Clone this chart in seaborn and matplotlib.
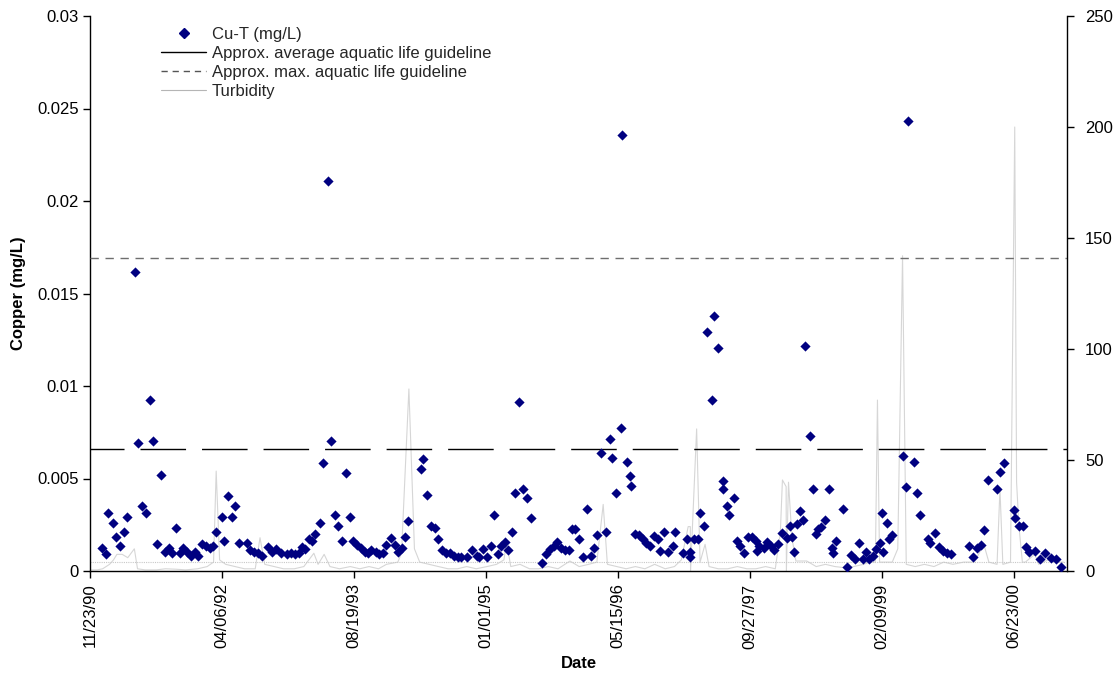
import matplotlib
matplotlib.use("Agg")
import matplotlib.pyplot as plt
import matplotlib.dates as mdates
from matplotlib.lines import Line2D
import pandas as pd
import seaborn as sns

# Total copper samples (mg/L)
copper_dates = [
    "1991-01-08", "1991-01-21", "1991-02-01", "1991-02-19", "1991-03-02", "1991-03-18",
    "1991-04-01", "1991-04-13", "1991-05-11", "1991-05-25", "1991-06-08", "1991-06-22",
    "1991-07-09", "1991-07-20", "1991-08-05", "1991-08-19", "1991-09-03", "1991-09-18",
    "1991-09-30", "1991-10-15", "1991-10-29", "1991-11-12", "1991-11-26", "1991-12-12",
    "1991-12-24", "1992-01-07", "1992-01-20", "1992-02-05", "1992-02-20", "1992-03-03",
    "1992-03-16", "1992-04-05", "1992-04-14", "1992-04-28", "1992-05-13", "1992-05-27",
    "1992-06-09", "1992-07-08", "1992-07-21", "1992-08-06", "1992-08-21", "1992-09-06",
    "1992-09-26", "1992-10-11", "1992-10-27", "1992-11-16", "1992-12-07", "1992-12-22",
    "1993-01-07", "1993-01-21", "1993-02-02", "1993-02-14", "1993-03-01", "1993-03-13",
    "1993-03-25", "1993-04-11", "1993-04-23", "1993-05-11", "1993-05-25", "1993-06-07",
    "1993-06-21", "1993-07-05", "1993-07-20", "1993-08-03", "1993-08-15", "1993-08-30",
    "1993-09-14", "1993-09-28", "1993-10-11", "1993-10-24", "1993-11-09", "1993-11-22",
    "1993-12-07", "1993-12-20", "1994-01-06", "1994-01-21", "1994-02-03", "1994-02-16",
    "1994-02-28", "1994-03-12", "1994-05-01", "1994-05-09", "1994-05-21", "1994-06-05",
    "1994-06-21", "1994-07-05", "1994-07-18", "1994-08-02", "1994-08-16", "1994-09-01",
    "1994-09-17", "1994-09-30", "1994-10-21", "1994-11-08", "1994-11-27", "1994-12-05",
    "1994-12-21", "1995-01-06", "1995-01-19", "1995-02-02", "1995-02-17", "1995-02-28",
    "1995-03-15", "1995-03-27", "1995-04-11", "1995-04-22", "1995-05-08", "1995-05-23",
    "1995-06-04", "1995-06-22", "1995-08-01", "1995-08-15", "1995-08-30", "1995-09-14",
    "1995-09-27", "1995-10-11", "1995-10-26", "1995-11-11", "1995-11-21", "1995-12-03",
    "1995-12-19", "1996-01-02", "1996-01-18", "1996-02-03", "1996-02-14", "1996-02-27",
    "1996-03-13", "1996-03-29", "1996-04-15", "1996-04-24", "1996-05-07", "1996-05-27",
    "1996-06-01", "1996-06-19", "1996-06-30", "1996-07-03", "1996-07-19", "1996-08-02",
    "1996-08-16", "1996-08-31", "1996-09-13", "1996-09-28", "1996-10-12", "1996-10-23",
    "1996-11-07", "1996-11-22", "1996-12-10", "1996-12-17", "1997-01-15", "1997-01-30",
    "1997-02-11", "1997-02-13", "1997-02-26", "1997-03-13", "1997-03-23", "1997-04-05",
    "1997-04-19", "1997-05-06", "1997-05-15", "1997-05-30", "1997-06-15", "1997-06-17",
    "1997-07-02", "1997-07-08", "1997-07-27", "1997-08-09", "1997-08-21", "1997-09-06",
    "1997-09-21", "1997-10-05", "1997-10-20", "1997-10-22", "1997-11-02", "1997-11-18",
    "1997-12-02", "1997-12-14", "1997-12-27", "1998-01-12", "1998-01-28", "1998-02-13",
    "1998-02-27", "1998-03-06", "1998-03-11", "1998-03-23", "1998-04-03", "1998-04-15",
    "1998-04-25", "1998-05-13", "1998-05-25", "1998-06-05", "1998-06-13", "1998-06-23",
    "1998-07-09", "1998-07-22", "1998-08-04", "1998-08-07", "1998-08-20", "1998-09-15",
    "1998-10-01", "1998-10-16", "1998-10-29", "1998-11-13", "1998-11-29", "1998-12-12",
    "1998-12-21", "1999-01-07", "1999-01-19", "1999-02-01", "1999-02-11", "1999-02-13",
    "1999-03-01", "1999-03-09", "1999-03-18", "1999-04-28", "1999-05-11", "1999-05-20",
    "1999-06-09", "1999-06-20", "1999-07-04", "1999-08-03", "1999-08-10", "1999-08-29",
    "1999-09-15", "1999-09-30", "1999-10-14", "1999-10-27", "2000-01-04", "2000-01-20",
    "2000-02-05", "2000-02-21", "2000-03-02", "2000-03-16", "2000-04-20", "2000-05-02",
    "2000-05-18", "2000-06-22", "2000-06-28", "2000-07-11", "2000-07-29", "2000-08-09",
    "2000-08-18", "2000-09-09", "2000-09-28", "2000-10-17", "2000-11-11", "2000-12-01",
    "2000-12-20",
]
copper_mgl = [
    0.00126, 0.00092, 0.00313, 0.00261, 0.00186, 0.00137,
    0.00213, 0.00294, 0.01616, 0.00694, 0.00353, 0.00312,
    0.00923, 0.00703, 0.00144, 0.00521, 0.00104, 0.00122,
    0.00096, 0.00234, 0.00099, 0.00122, 0.00104, 0.00083,
    0.00104, 0.00083, 0.00144, 0.00137, 0.00122, 0.00137,
    0.00213, 0.00294, 0.00162, 0.00405, 0.00294, 0.00353,
    0.00153, 0.00153, 0.00114, 0.00104, 0.00096, 0.00083,
    0.00128, 0.00104, 0.00119, 0.00096, 0.00092, 0.00099,
    0.00092, 0.00096, 0.00132, 0.00119, 0.00173, 0.00162,
    0.00198, 0.00261, 0.00582, 0.02108, 0.00703, 0.00303,
    0.00243, 0.00162, 0.00531, 0.00294, 0.00162, 0.00141,
    0.00123, 0.00104, 0.00099, 0.00114, 0.00104, 0.00092,
    0.00096, 0.00141, 0.00177, 0.00141, 0.00104, 0.00123,
    0.00186, 0.00272, 0.00551, 0.00604, 0.00412, 0.00243,
    0.00234, 0.00173, 0.00114, 0.00099, 0.00096, 0.00083,
    0.00074, 0.00074, 0.00074, 0.00114, 0.00083, 0.00074,
    0.00119, 0.00074, 0.00137, 0.00303, 0.00092, 0.00137,
    0.00155, 0.00114, 0.00213, 0.00423, 0.00912, 0.00442,
    0.00393, 0.00285, 0.00045, 0.00092, 0.00117, 0.00137,
    0.00155, 0.00123, 0.00114, 0.00114, 0.00225, 0.00225,
    0.00173, 0.00074, 0.00334, 0.00083, 0.00123, 0.00195,
    0.00636, 0.00213, 0.00712, 0.00612, 0.00423, 0.00771,
    0.02357, 0.00591, 0.00514, 0.00461, 0.00198, 0.00195,
    0.00173, 0.00150, 0.00137, 0.00189, 0.00173, 0.00108,
    0.00213, 0.00101, 0.00137, 0.00213, 0.00096, 0.00173,
    0.00101, 0.00077, 0.00173, 0.00173, 0.00312, 0.00243,
    0.01292, 0.00924, 0.01378, 0.01205, 0.00486, 0.00442,
    0.00353, 0.00303, 0.00393, 0.00164, 0.00137, 0.00099,
    0.00186, 0.00186, 0.00162, 0.00110, 0.00137, 0.00123,
    0.00155, 0.00137, 0.00114, 0.00144, 0.00204, 0.00177,
    0.00243, 0.00186, 0.00101, 0.00254, 0.00324, 0.00276,
    0.01216, 0.00731, 0.00442, 0.00198, 0.00225, 0.00239,
    0.00276, 0.00442, 0.00123, 0.00099, 0.00162, 0.00334,
    0.00023, 0.00086, 0.00065, 0.00153, 0.00065, 0.00104,
    0.00063, 0.00083, 0.00119, 0.00150, 0.00312, 0.00101,
    0.00261, 0.00171, 0.00195, 0.00622, 0.00456, 0.02432,
    0.00591, 0.00420, 0.00303, 0.00171, 0.00150, 0.00207,
    0.00128, 0.00110, 0.00096, 0.00092, 0.00135, 0.00074,
    0.00123, 0.00141, 0.00222, 0.00492, 0.00443, 0.00534,
    0.00585, 0.00330, 0.00285, 0.00245, 0.00245, 0.00131,
    0.00104, 0.00108, 0.00065, 0.00096, 0.00069, 0.00065,
    0.00023,
]

# Turbidity record (NTU, right-hand axis)
turbidity_dates = [
    "1990-11-23", "1990-12-20", "1991-01-10", "1991-02-05", "1991-02-20", "1991-03-05",
    "1991-03-25", "1991-04-15", "1991-05-10", "1991-05-22", "1991-06-20", "1991-08-01",
    "1991-09-05", "1991-10-15", "1991-11-20", "1992-01-05", "1992-02-10", "1992-03-05",
    "1992-03-15", "1992-03-28", "1992-04-20", "1992-05-25", "1992-06-30", "1992-08-10",
    "1992-08-28", "1992-09-15", "1992-10-20", "1992-11-25", "1993-01-05", "1993-02-10",
    "1993-03-20", "1993-04-05", "1993-04-28", "1993-05-20", "1993-06-25", "1993-08-05",
    "1993-09-10", "1993-10-15", "1993-11-20", "1993-12-20", "1994-02-01", "1994-02-15",
    "1994-03-15", "1994-04-05", "1994-04-25", "1994-05-30", "1994-07-05", "1994-08-10",
    "1994-09-15", "1994-10-20", "1994-11-25", "1995-01-05", "1995-02-10", "1995-03-10",
    "1995-03-20", "1995-04-05", "1995-05-10", "1995-06-15", "1995-07-20", "1995-08-25",
    "1995-10-01", "1995-11-15", "1995-12-20", "1996-01-25", "1996-02-25", "1996-03-20",
    "1996-04-05", "1996-05-10", "1996-06-15", "1996-07-20", "1996-08-25", "1996-10-01",
    "1996-11-10", "1996-12-15", "1997-01-10", "1997-02-05", "1997-02-13", "1997-02-14",
    "1997-03-09", "1997-03-22", "1997-04-10", "1997-04-25", "1997-05-30", "1997-07-05",
    "1997-08-10", "1997-09-15", "1997-10-20", "1997-11-25", "1998-01-01", "1998-01-20",
    "1998-01-28", "1998-02-11", "1998-02-12", "1998-02-20", "1998-03-05", "1998-03-20",
    "1998-04-30", "1998-06-05", "1998-07-10", "1998-08-15", "1998-09-20", "1998-10-25",
    "1998-12-01", "1998-12-25", "1999-01-15", "1999-01-23", "1999-01-31", "1999-02-25",
    "1999-03-20", "1999-04-10", "1999-04-28", "1999-05-12", "1999-06-15", "1999-07-20",
    "1999-08-25", "1999-10-01", "1999-11-05", "1999-12-15", "2000-01-25", "2000-03-01",
    "2000-03-20", "2000-04-20", "2000-05-01", "2000-05-12", "2000-06-10", "2000-06-26",
    "2000-07-03", "2000-07-12", "2000-07-25", "2000-08-05", "2000-09-10", "2000-09-25",
    "2000-10-30", "2000-12-05", "2000-12-28",
]
turbidity_ntu = [
    0.5, 0.5, 1, 3, 5, 7.5,
    7.5, 6, 10, 1, 0.5, 0.5,
    1, 0.8, 0.5, 1, 2, 4,
    45, 5, 3, 2, 1, 1,
    15, 3, 2, 1, 1, 2,
    8, 3, 7.5, 2, 1, 2,
    1, 2, 1, 3, 4, 8,
    82, 10, 4, 3, 2, 1,
    1, 2, 1, 2, 3, 5,
    13, 2, 3, 1, 1, 2,
    1, 4.5, 2, 3, 4, 30,
    3, 2, 1, 2, 1, 3,
    1, 2, 5, 20, 20, 0,
    64, 4, 12, 2, 1, 1,
    2, 1, 1, 2, 1, 17,
    41, 38, 0, 40, 15, 4.5,
    4.5, 2, 3, 2, 1.5, 2,
    3, 4, 4, 77, 4, 4,
    4, 10, 142, 3, 2, 3,
    2, 4, 3, 4, 4, 12,
    4, 3, 37, 3, 4, 200,
    40, 20, 4, 4, 7.5, 3,
    5, 4, 4,
]

# Guideline levels (mg/L) and the low reference line
avg_guideline = 0.0066
max_guideline = 0.0169
low_reference = 0.00047

tick_dates = ["1990-11-23", "1992-04-06", "1993-08-19", "1995-01-01",
              "1996-05-15", "1997-09-27", "1999-02-09", "2000-06-23"]
x_start, x_end = "1990-11-23", "2001-01-10"
copper_ticks = [0, 0.005, 0.01, 0.015, 0.02, 0.025, 0.03]
copper_tick_labels = ["0", "0.005", "0.01", "0.015", "0.02", "0.025", "0.03"]
turbidity_ticks = [0, 50, 100, 150, 200, 250]

sns.set_theme(style="white")
plt.rcParams["font.family"] = ["Liberation Sans", "DejaVu Sans"]

cu = pd.DataFrame({"date": pd.to_datetime(copper_dates), "copper": copper_mgl})
tb = pd.DataFrame({"date": pd.to_datetime(turbidity_dates), "turbidity": turbidity_ntu})

W, H = 1115, 677
fig = plt.figure(figsize=(W / 100, H / 100), dpi=100)
ax = fig.add_axes([90 / W, 1 - 571 / H, (1067 - 90) / W, (571 - 16) / H])
ax2 = ax.twinx()

turb_color = "#d6d6d6"
navy = "#000080"

sns.lineplot(data=tb, x="date", y="turbidity", ax=ax2, color=turb_color,
             linewidth=0.8, legend=False)
sns.scatterplot(data=cu, x="date", y="copper", ax=ax, marker="D", s=27,
                color=navy, edgecolor=navy, linewidth=0, legend=False, zorder=5)

ax.axhline(avg_guideline, color="black", linewidth=1.0,
           linestyle=(8.3, (32.8, 11.5)), zorder=3)
ax.axhline(max_guideline, color="#6e6e6e", linewidth=1.0,
           linestyle=(0, (6.0, 4.8)), zorder=3)
ax.axhline(low_reference, color="#c8c8c8", linewidth=0.8,
           linestyle=(0, (1.0, 1.0)), zorder=2)

# copper axis drawn on top of the turbidity axis
ax.set_zorder(ax2.get_zorder() + 1)
ax.patch.set_visible(False)

ax.set_xlim(pd.Timestamp(x_start), pd.Timestamp(x_end))
ax.set_ylim(0, 0.03)
ax2.set_ylim(0, 250)

ax.set_xticks(pd.to_datetime(tick_dates))
ax.xaxis.set_major_formatter(mdates.DateFormatter("%m/%d/%y"))
ax.set_yticks(copper_ticks)
ax.set_yticklabels(copper_tick_labels)
ax2.set_yticks(turbidity_ticks)
ax2.set_yticklabels([str(t) for t in turbidity_ticks])

for a in (ax, ax2):
    for side in ("top", "left", "right", "bottom"):
        a.spines[side].set_visible(False)
    a.grid(False)
for side in ("left", "bottom"):
    ax.spines[side].set_visible(True)
    ax.spines[side].set_color("black")
    ax.spines[side].set_linewidth(1.0)
ax2.spines["right"].set_visible(True)
ax2.spines["right"].set_color("black")
ax2.spines["right"].set_linewidth(1.0)

ax.tick_params(axis="x", bottom=True, direction="out", length=5, width=1,
               color="black", labelsize=12, labelcolor="black", pad=4,
               labelrotation=90)
ax.tick_params(axis="y", left=True, direction="out", length=5, width=1,
               color="black", labelsize=12, labelcolor="black", pad=3)
ax2.tick_params(axis="y", right=True, direction="out", length=5, width=1,
                color="black", labelsize=12, labelcolor="black", pad=8)

ax.set_xlabel("Date", fontsize=12, fontweight="bold", color="black")
ax.set_ylabel("Copper (mg/L)", fontsize=12, fontweight="bold", color="black")
ax2.set_ylabel("")
ax.xaxis.set_label_coords(0.5, -0.153)
ax.yaxis.set_label_coords(-0.066, 0.5)

handles = [
    Line2D([], [], marker="D", color=navy, linestyle="none", markersize=5.2),
    Line2D([], [], color="black", linewidth=1.0),
    Line2D([], [], color="#555555", linewidth=1.0, linestyle=(0, (4.5, 3.5))),
    Line2D([], [], color="#b5b5b5", linewidth=0.8),
]
labels = ["Cu-T (mg/L)", "Approx. average aquatic life guideline",
          "Approx. max. aquatic life guideline", "Turbidity"]
ax.legend(handles, labels, loc="upper left",
          bbox_to_anchor=(161 / W, 1 - 27 / H), bbox_transform=fig.transFigure,
          frameon=False, fontsize=12, handlelength=2.7, handletextpad=0.35,
          labelspacing=0.24, borderpad=0, borderaxespad=0)

fig.savefig("out.png", dpi=100, facecolor="white")
